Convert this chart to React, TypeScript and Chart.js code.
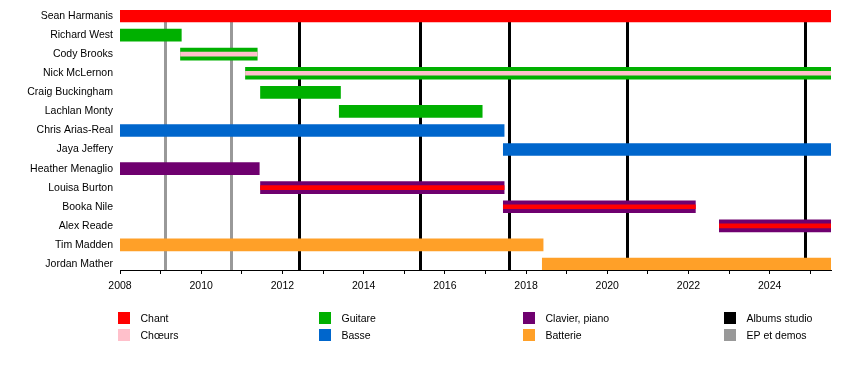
import React, { useEffect, useRef } from "react";
import { Chart, registerables } from "chart.js";

Chart.register(...registerables);

const START = 2008;
const END = 2025.51;

const members = [
  "Sean Harmanis",
  "Richard West",
  "Cody Brooks",
  "Nick McLernon",
  "Craig Buckingham",
  "Lachlan Monty",
  "Chris Arias-Real",
  "Jaya Jeffery",
  "Heather Menaglio",
  "Louisa Burton",
  "Booka Nile",
  "Alex Reade",
  "Tim Madden",
  "Jordan Mather",
];
const starts = [2008, 2008, 2009.49, 2011.09, 2011.46, 2013.4, 2008, 2017.44, 2008, 2011.46, 2017.44, 2022.76, 2008, 2018.4];
const ends = [END, 2009.51, 2011.38, END, 2013.43, 2016.92, 2017.46, END, 2011.43, 2017.46, 2022.17, END, 2018.42, END];
const mainRoles = [
  "Chant",
  "Guitare",
  "Guitare",
  "Guitare",
  "Guitare",
  "Guitare",
  "Basse",
  "Basse",
  "Clavier, piano",
  "Clavier, piano",
  "Clavier, piano",
  "Clavier, piano",
  "Batterie",
  "Batterie",
];
const extraRoles: (string | null)[] = [null, null, "Chœurs", "Chœurs", null, null, null, null, null, "Chant", "Chant", "Chant", null, null];

const albumDates = [2012.4, 2015.4, 2017.57, 2020.48, 2024.86];
const epDates = [2009.1, 2010.74];

const legendLabels = ["Chant", "Chœurs", "Guitare", "Basse", "Clavier, piano", "Batterie", "Albums studio", "EP et demos"];
const legendColors = ["#ff0000", "#ffc0cb", "#00b000", "#0066cc", "#6f006f", "#ffa028", "#000000", "#999999"];

const yearTicks = [2008, 2009, 2010, 2011, 2012, 2013, 2014, 2015, 2016, 2017, 2018, 2019, 2020, 2021, 2022, 2023, 2024, 2025];

const roleColor = (r: string) => legendColors[legendLabels.indexOf(r)];
const FONT = "'Liberation Sans', Arial, sans-serif";

const linesPlugin = {
  id: "releaseLines",
  beforeDatasetsDraw(chart: any) {
    const { ctx, chartArea, scales } = chart;
    const x = scales.x;
    ctx.save();
    ctx.lineWidth = 3;
    const draw = (dates: number[], color: string) => {
      ctx.strokeStyle = color;
      dates.forEach((d) => {
        const px = Math.round(x.getPixelForValue(d)) + 0.5;
        ctx.beginPath();
        ctx.moveTo(px, chartArea.top);
        ctx.lineTo(px, chartArea.bottom);
        ctx.stroke();
      });
    };
    draw(epDates, roleColor("EP et demos"));
    draw(albumDates, roleColor("Albums studio"));
    ctx.restore();
  },
};

const legendPlugin = {
  id: "customLegend",
  afterDraw(chart: any) {
    const { ctx } = chart;
    const colX = [118, 319, 523, 724];
    const rowY = [312, 329];
    ctx.save();
    ctx.font = `10.5px ${FONT}`;
    ctx.textBaseline = "middle";
    ctx.textAlign = "left";
    legendLabels.forEach((label, i) => {
      const c = Math.floor(i / 2);
      const r = i % 2;
      const x = colX[c];
      const y = rowY[r];
      ctx.fillStyle = legendColors[i];
      ctx.fillRect(x, y, 12, 12);
      ctx.fillStyle = "#000";
      ctx.fillText(label, x + 22.5, y + 7);
    });
    ctx.restore();
  },
};

export default function App() {
  const ref = useRef<HTMLCanvasElement | null>(null);

  useEffect(() => {
    if (!ref.current) return;
    const mainData = members.map((_, i) => ({ x: [starts[i], ends[i]], y: i }));
    const mainColors = mainRoles.map(roleColor);
    const stripeIdx = extraRoles.map((r, i) => (r ? i : -1)).filter((i) => i >= 0);
    const stripeData = stripeIdx.map((i) => ({ x: [starts[i], ends[i]], y: i }));
    const stripeColors = stripeIdx.map((i) => roleColor(extraRoles[i] as string));

    const chart = new Chart(ref.current, {
      type: "bar",
      data: {
        datasets: [
          {
            label: "main",
            data: mainData as any,
            backgroundColor: mainColors,
            barThickness: 12,
            grouped: false,
            order: 2,
          } as any,
          {
            label: "extra",
            data: stripeData as any,
            backgroundColor: stripeColors,
            barThickness: 4,
            grouped: false,
            order: 1,
          } as any,
        ],
      },
      options: {
        indexAxis: "y",
        responsive: false,
        animation: false,
        layout: { padding: { top: 10, right: 19, left: 0, bottom: 0 } },
        plugins: { legend: { display: false }, tooltip: { enabled: false } },
        scales: {
          x: {
            type: "linear",
            offset: false,
            min: START,
            max: END,
            afterBuildTicks: (scale: any) => {
              scale.ticks = yearTicks.map((v) => ({ value: v }));
            },
            afterFit: (scale: any) => {
              scale.height = 120;
              scale.paddingLeft = 0;
              scale.paddingRight = 0;
            },
            ticks: {
              autoSkip: false,
              maxRotation: 0,
              padding: 6,
              color: "#000",
              font: { family: FONT, size: 10.5 },
              callback: (v: any) => (Number(v) % 2 === 0 ? String(v) : ""),
            },
            grid: { drawOnChartArea: false, color: "#000", tickLength: 4, lineWidth: 1 },
            border: { display: true, color: "#000", width: 1 },
          },
          y: {
            type: "linear",
            offset: false,
            reverse: true,
            min: -0.314,
            max: members.length - 1 + 0.314,
            afterBuildTicks: (scale: any) => {
              scale.ticks = members.map((_, i) => ({ value: i }));
            },
            afterFit: (scale: any) => {
              scale.width = 120;
              scale.paddingTop = 0;
              scale.paddingBottom = 0;
            },
            ticks: {
              autoSkip: false,
              padding: 7,
              color: "#000",
              font: { family: FONT, size: 10.5 },
              callback: (v: any) => members[Number(v)] ?? "",
            },
            grid: { display: false, drawTicks: false },
            border: { display: false },
          },
        },
      } as any,
      plugins: [linesPlugin, legendPlugin],
    });
    return () => chart.destroy();
  }, []);

  return (
    <div style={{ position: "absolute", left: 0, top: 0, width: 850, height: 390, background: "#fff" }}>
      <canvas ref={ref} width={850} height={390} />
    </div>
  );
}
